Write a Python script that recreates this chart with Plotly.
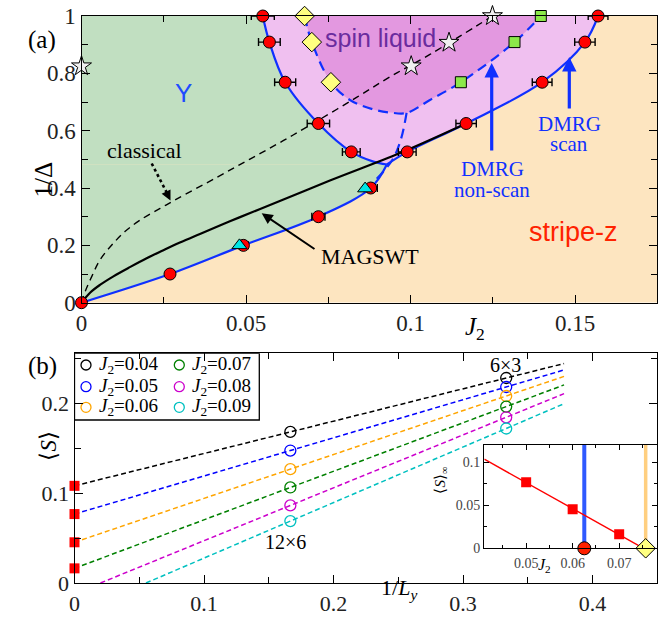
import numpy as np
import plotly.graph_objects as go

# ======================= DATA =======================
# ---- panel (a): phase diagram, x = J2, y = 1/Delta ----
# DMRG "scan" boundary points (red circles) with x error bars
scan_bottom_J2 = [0.0, 0.0269, 0.0492, 0.0720, 0.0879]
scan_bottom_invD = [0.0, 0.100, 0.200, 0.300, 0.400]
scan_bottom_err = [0.0, 0.0, 0.0015, 0.0020, 0.0020]
scan_left_J2 = [0.0551, 0.0571, 0.0619, 0.0720, 0.0820]
scan_left_invD = [1.000, 0.909, 0.769, 0.625, 0.526]
scan_left_err = [0.0035, 0.0033, 0.0032, 0.0034, 0.0027]
scan_right_J2 = [0.0990, 0.1169, 0.1400, 0.1530, 0.1570]
scan_right_invD = [0.526, 0.625, 0.769, 0.909, 1.000]
scan_right_err = [0.0027, 0.0031, 0.0030, 0.0031, 0.0030]
# point where the two scan boundaries meet
junction_J2 = [0.0887, 0.0928]
junction_invD = [0.492, 0.482]

# DMRG "non-scan" boundary
nonscan_left_J2 = [0.0678, 0.0700, 0.0758]          # yellow diamonds
nonscan_left_invD = [1.000, 0.909, 0.769]
nonscan_right_J2 = [0.1153, 0.1316, 0.1396]         # green squares
nonscan_right_invD = [0.769, 0.909, 1.000]
nonscan_mid_J2 = [0.0816, 0.0887, 0.0940, 0.0988, 0.1059]   # bottom of the dashed dome
nonscan_mid_invD = [0.707, 0.674, 0.663, 0.662, 0.707]
nonscan_stem_J2 = [0.0988, 0.0972, 0.0948, 0.0917, 0.0870]
nonscan_stem_invD = [0.662, 0.575, 0.504, 0.457, 0.400]
tri_J2 = [0.0480, 0.0862]                           # cyan triangles
tri_invD = [0.200, 0.398]
star_J2 = [0.0, 0.1002, 0.1117, 0.1249]             # stars
star_invD = [0.825, 0.825, 0.907, 1.000]

# classical boundary (dashed black)
classical_J2 = [0.0, 0.0011, 0.0031, 0.0056, 0.0092, 0.0132, 0.0178, 0.0239, 0.0284,
                0.0411, 0.0512, 0.0613, 0.0715, 0.0836, 0.0938, 0.1059, 0.1249]
classical_invD = [0.0, 0.038, 0.091, 0.149, 0.201, 0.248, 0.288, 0.329, 0.358,
                  0.437, 0.501, 0.565, 0.633, 0.716, 0.788, 0.866, 1.000]
# MAGSWT boundary (solid black)
magswt_J2 = [0.0, 0.0026, 0.0056, 0.0097, 0.0147, 0.0198, 0.0249, 0.0299, 0.0360,
             0.0451, 0.0543, 0.0755, 0.0968, 0.1169]
magswt_invD = [0.0, 0.035, 0.062, 0.092, 0.124, 0.155, 0.183, 0.210, 0.240,
               0.284, 0.327, 0.426, 0.522, 0.625]

a_xticks = [0, 0.05, 0.1, 0.15]
a_yticks = [0, 0.2, 0.4, 0.6, 0.8, 1.0]

# ---- panel (b): <S> vs 1/Ly ----
J2_vals = [0.04, 0.05, 0.06, 0.07, 0.08, 0.09]
invLy = [1 / 6, 1 / 3]                       # 12x6 and 6x3 clusters
S_12x6 = [0.1681, 0.1474, 0.1267, 0.1063, 0.0863, 0.0689]
S_6x3 = [0.2281, 0.2181, 0.2081, 0.1963, 0.1844, 0.1719]
b_xticks = [0, 0.1, 0.2, 0.3, 0.4]
b_yticks = [0, 0.1, 0.2]

# inset
J2c_scan = 0.0625
J2c_nonscan = 0.0757
i_xticks = [0.05, 0.06, 0.07]
i_yticks = [0, 0.05, 0.1]

# ======================= LAYOUT GEOMETRY =======================
W, H = 667, 618
A_PX = (81.5, 657.3, 302.7, 16.0)   # left, right, bottom, top (pixels)
B_PX = (74.5, 657.3, 583.0, 353.3)
I_PX = (484.3, 657.3, 548.3, 445.0)
A_RANGE = ([0, 0.175], [0, 1.0])
B_RANGE = ([0, 0.45], [0, 0.2556])
I_RANGE = ([0.041, 0.0782], [0, 0.12])


def dom(px):
    l, r, b, t = px
    return [l / W, r / W], [1 - b / H, 1 - t / H]


def to_data(px, rng, x, y):
    l, r, b, t = px
    (x0, x1), (y0, y1) = rng
    return x0 + (x - l) / (r - l) * (x1 - x0), y0 + (b - y) / (b - t) * (y1 - y0)


def pa(x, y):
    return to_data(A_PX, A_RANGE, x, y)


def pb(x, y):
    return to_data(B_PX, B_RANGE, x, y)


def paper(x, y):
    return x / W, 1 - y / H


SERIF = "Liberation Serif"
SANS = "Liberation Sans"
BLUE = "#1030ff"
GREEN_FILL = "#c1dfc1"
ORANGE_FILL = "#fde5c0"
PINK_FILL = "#f0c0f0"
DARK_PINK_FILL = "#e398e0"

fig = go.Figure()

# ---------------- panel (a) regions and boundaries ----------------
bottom_x = scan_bottom_J2 + [junction_J2[1]]
bottom_y = scan_bottom_invD + [junction_invD[1]]
left_x = scan_left_J2 + junction_J2
left_y = scan_left_invD + junction_invD
right_x = [junction_J2[1]] + scan_right_J2
right_y = [junction_invD[1]] + scan_right_invD

line_a = dict(color=BLUE, width=2.2, shape="spline", smoothing=1)

# Y phase below / left of boundaries
fig.add_trace(go.Scatter(x=bottom_x, y=bottom_y, mode="lines", line=line_a,
                         fill="tozerox", fillcolor=GREEN_FILL, xaxis="x", yaxis="y",
                         hoverinfo="skip", showlegend=False))
fig.add_trace(go.Scatter(x=left_x, y=left_y, mode="lines", line=line_a,
                         fill="tozerox", fillcolor=GREEN_FILL, xaxis="x", yaxis="y",
                         hoverinfo="skip", showlegend=False))
# intermediate (light pink) between the two scan boundaries
fig.add_trace(go.Scatter(x=right_x[::-1], y=right_y[::-1], mode="lines", line=line_a,
                         fill="tonextx", fillcolor=PINK_FILL, xaxis="x", yaxis="y",
                         hoverinfo="skip", showlegend=False))
# spin-liquid dome (dashed, dark pink)
dome_x = nonscan_left_J2 + nonscan_mid_J2 + nonscan_right_J2
dome_y = nonscan_left_invD + nonscan_mid_invD + nonscan_right_invD
fig.add_trace(go.Scatter(x=dome_x, y=dome_y, mode="lines",
                         line=dict(color=BLUE, width=2.2, dash="10px,6px", shape="spline"),
                         fill="toself", fillcolor=DARK_PINK_FILL, xaxis="x", yaxis="y",
                         hoverinfo="skip", showlegend=False))
fig.add_trace(go.Scatter(x=nonscan_stem_J2, y=nonscan_stem_invD, mode="lines",
                         line=dict(color=BLUE, width=2.2, dash="10px,6px", shape="spline"),
                         xaxis="x", yaxis="y", hoverinfo="skip", showlegend=False))
# classical and MAGSWT
fig.add_trace(go.Scatter(x=classical_J2, y=classical_invD, mode="lines",
                         line=dict(color="black", width=1.4, dash="7px,5px", shape="spline"),
                         xaxis="x", yaxis="y", hoverinfo="skip", showlegend=False))
fig.add_trace(go.Scatter(x=magswt_J2, y=magswt_invD, mode="lines",
                         line=dict(color="black", width=2.2, shape="spline"),
                         xaxis="x", yaxis="y", hoverinfo="skip", showlegend=False))
# dotted pointer for "classical"
c0 = pa(151.7, 163.5)
c1 = pa(167.5, 194.0)
fig.add_trace(go.Scatter(x=[c0[0], c1[0]], y=[c0[1], c1[1]], mode="lines",
                         line=dict(color="black", width=2.6, dash="dot"),
                         xaxis="x", yaxis="y", hoverinfo="skip", showlegend=False))

# markers
fig.add_trace(go.Scatter(x=scan_bottom_J2 + scan_left_J2 + scan_right_J2,
                         y=scan_bottom_invD + scan_left_invD + scan_right_invD,
                         mode="markers",
                         error_x=dict(type="data", array=scan_bottom_err + scan_left_err + scan_right_err,
                                      color="black", thickness=1.4, width=4),
                         marker=dict(symbol="circle", size=12, color="#ff0000",
                                     line=dict(color="black", width=1)),
                         cliponaxis=False, xaxis="x", yaxis="y", showlegend=False))
fig.add_trace(go.Scatter(x=nonscan_left_J2, y=nonscan_left_invD, mode="markers",
                         marker=dict(symbol="diamond", size=15, color="#ffff80",
                                     line=dict(color="black", width=1)),
                         cliponaxis=False, xaxis="x", yaxis="y", showlegend=False))
fig.add_trace(go.Scatter(x=nonscan_right_J2, y=nonscan_right_invD, mode="markers",
                         marker=dict(symbol="square", size=11, color="#8ce84a",
                                     line=dict(color="black", width=1)),
                         cliponaxis=False, xaxis="x", yaxis="y", showlegend=False))
fig.add_trace(go.Scatter(x=star_J2, y=star_invD, mode="markers",
                         marker=dict(symbol="star", size=15, color="#f0f0f0",
                                     line=dict(color="black", width=1)),
                         cliponaxis=False, xaxis="x", yaxis="y", showlegend=False))
fig.add_trace(go.Scatter(x=tri_J2, y=tri_invD, mode="markers",
                         marker=dict(symbol="triangle-up", size=13, color="#00e5e5",
                                     line=dict(color="black", width=1)),
                         cliponaxis=False, xaxis="x", yaxis="y", showlegend=False))

# ---------------- panel (b) ----------------
colors_b = ["black", "#0000ff", "#ffa500", "#008000", "#cc00cc", "#00c0c0"]
x_end = 0.378
S_inf = []
for j, col in enumerate(colors_b):
    slope, icpt = np.polyfit(invLy, [S_12x6[j], S_6x3[j]], 1)
    S_inf.append(icpt)
    xs = max(0.0, -icpt / slope)
    fig.add_trace(go.Scatter(x=[xs, x_end], y=[icpt + slope * xs, icpt + slope * x_end],
                             mode="lines", line=dict(color=col, width=1.5, dash="5px,3px"),
                             xaxis="x2", yaxis="y2", hoverinfo="skip", showlegend=False))
    fig.add_trace(go.Scatter(x=invLy, y=[S_12x6[j], S_6x3[j]], mode="markers",
                             marker=dict(symbol="circle-open", size=11, color=col,
                                         line=dict(width=1.3)),
                             xaxis="x2", yaxis="y2", name=f"J2={J2_vals[j]}", showlegend=False))
S_inf = np.array(S_inf)
pos = S_inf > 0
fig.add_trace(go.Scatter(x=[0.0] * int(pos.sum()), y=S_inf[pos], mode="markers",
                         marker=dict(symbol="square", size=10, color="#ff0000"),
                         cliponaxis=False, xaxis="x2", yaxis="y2", showlegend=False))

# manual legend (two columns)
leg_box0 = pb(74.5, 420.0)
leg_box1 = pb(259.3, 353.3)
rows_py = [365.0, 386.7, 407.3]
cols_px = [(86.0, 96.7), (179.3, 190.0)]
leg_mx, leg_my, leg_annots = [], [], []
for j, J in enumerate(J2_vals):
    c, r = divmod(j, 3)
    mx, my = pb(cols_px[c][0], rows_py[r])
    tx, ty = pb(cols_px[c][1], rows_py[r])
    leg_mx.append(mx)
    leg_my.append(my)
    leg_annots.append(dict(x=tx, y=ty, xref="x2", yref="y2", xanchor="left", yanchor="middle",
                           text=f"<i>J</i><sub>2</sub>={J:.2f}", showarrow=False,
                           font=dict(family=SERIF, size=19, color="black")))
fig.add_trace(go.Scatter(x=leg_mx, y=leg_my, mode="markers",
                         marker=dict(symbol="circle-open", size=10, color=colors_b,
                                     line=dict(width=1.3)),
                         cliponaxis=False, xaxis="x2", yaxis="y2", hoverinfo="skip",
                         showlegend=False))

# ---------------- inset ----------------
Ji = np.array(J2_vals)
mask = pos & (Ji > I_RANGE[0][0]) & (Ji < I_RANGE[0][1])
sl, ic = np.polyfit(Ji[mask], S_inf[mask], 1)
x_zero = -ic / sl
fig.add_trace(go.Scatter(x=[J2c_scan, J2c_scan], y=I_RANGE[1], mode="lines",
                         line=dict(color="rgba(10,60,255,0.85)", width=4),
                         xaxis="x3", yaxis="y3", hoverinfo="skip", showlegend=False))
fig.add_trace(go.Scatter(x=[J2c_nonscan, J2c_nonscan], y=I_RANGE[1], mode="lines",
                         line=dict(color="#ffcf80", width=3.5),
                         xaxis="x3", yaxis="y3", hoverinfo="skip", showlegend=False))
fig.add_trace(go.Scatter(x=[I_RANGE[0][0], x_zero], y=[ic + sl * I_RANGE[0][0], 0.0],
                         mode="lines", line=dict(color="#ff0000", width=1.4),
                         xaxis="x3", yaxis="y3", hoverinfo="skip", showlegend=False))
fig.add_trace(go.Scatter(x=Ji[mask], y=S_inf[mask], mode="markers",
                         marker=dict(symbol="square", size=10, color="#ff0000"),
                         xaxis="x3", yaxis="y3", showlegend=False))
fig.add_trace(go.Scatter(x=[J2c_scan], y=[0.0], mode="markers",
                         marker=dict(symbol="circle", size=13, color="#ff2000",
                                     line=dict(color="black", width=1)),
                         cliponaxis=False, xaxis="x3", yaxis="y3", showlegend=False))
fig.add_trace(go.Scatter(x=[J2c_nonscan], y=[0.0], mode="markers",
                         marker=dict(symbol="diamond", size=15, color="#ffff80",
                                     line=dict(color="black", width=1)),
                         cliponaxis=False, xaxis="x3", yaxis="y3", showlegend=False))

# ---------------- axes ----------------
def axis(domain, rng, ticks, minor, size, anchor, ticklen=8, color="#222", standoff=0):
    return dict(domain=domain, range=rng, anchor=anchor, tickvals=ticks, automargin=False,
                ticks="inside", ticklen=ticklen, tickwidth=1.2, tickcolor="black",
                showline=True, linecolor="black", linewidth=1.3, mirror="ticks",
                showgrid=False, zeroline=False, ticklabelstandoff=standoff,
                minor=dict(dtick=minor, ticks="inside", ticklen=ticklen - 2,
                           tickcolor="black", tickwidth=1.1),
                tickfont=dict(family=SERIF, size=size, color=color))

ax_dom, ay_dom = dom(A_PX)
bx_dom, by_dom = dom(B_PX)
ix_dom, iy_dom = dom(I_PX)

layout = dict(
    width=W, height=H, margin=dict(l=0, r=0, t=0, b=0, pad=0, autoexpand=False),
    paper_bgcolor="white", plot_bgcolor="white", showlegend=False,
    xaxis=axis(ax_dom, A_RANGE[0], a_xticks, 0.025, 23, "y"),
    yaxis=axis(ay_dom, A_RANGE[1], a_yticks, 0.1, 23, "x"),
    xaxis2=axis(bx_dom, B_RANGE[0], b_xticks, 0.05, 22, "y2"),
    yaxis2=axis(by_dom, B_RANGE[1], b_yticks, 0.05, 22, "x2"),
    xaxis3=axis(ix_dom, I_RANGE[0], i_xticks, 0.005, 14, "y3", ticklen=5, color="#444",
                standoff=2),
    yaxis3=axis(iy_dom, I_RANGE[1], i_yticks, 0.025, 14, "x3", ticklen=5, color="#444"),
)
fig.update_layout(**layout)

# shapes: orange background of panel (a), legend box
fig.add_shape(type="rect", xref="x", yref="y", x0=A_RANGE[0][0], x1=A_RANGE[0][1],
              y0=A_RANGE[1][0], y1=A_RANGE[1][1], fillcolor=ORANGE_FILL,
              line=dict(width=0), layer="below")
fig.add_shape(type="rect", xref="x2", yref="y2", x0=leg_box0[0], x1=leg_box1[0],
              y0=leg_box0[1], y1=leg_box1[1], fillcolor="white",
              line=dict(color="black", width=1.3), layer="below")

# ---------------- annotations ----------------
ann = []


def txt_a(px, py, text, size, color="black", family=SERIF):
    x, y = pa(px, py)
    ann.append(dict(x=x, y=y, xref="x", yref="y", text=text, showarrow=False,
                    borderpad=0, font=dict(family=family, size=size, color=color)))


def txt_p(px, py, text, size, angle=0, color="black"):
    x, y = paper(px, py)
    ann.append(dict(x=x, y=y, xref="paper", yref="paper", text=text, showarrow=False,
                    textangle=angle, font=dict(family=SERIF, size=size, color=color)))


def arrow_a(hx, hy, tx, ty, color, width, size=1.0):
    h = pa(hx, hy)
    t = pa(tx, ty)
    ann.append(dict(x=h[0], y=h[1], ax=t[0], ay=t[1], xref="x", yref="y",
                    axref="x", ayref="y", text="", showarrow=True, arrowhead=2,
                    arrowsize=size, arrowwidth=width, arrowcolor=color))


txt_a(183.3, 93.3, "Y", 26, "#1f4cff", SANS)
txt_a(380.0, 38.0, "spin liquid", 25, "#6a2c9e", SANS)
txt_a(573.5, 231.7, "stripe-z", 27, "#ff2200", SANS)
txt_a(144.3, 150.0, "classical", 22)
txt_a(370.0, 256.0, "MAGSWT", 22)
txt_a(492.0, 169.0, "DMRG", 21, BLUE)
txt_a(492.0, 190.0, "non-scan", 21, BLUE)
txt_a(569.3, 123.5, "DMRG", 21, BLUE)
txt_a(569.3, 144.0, "scan", 21, BLUE)
arrow_a(261.7, 213.3, 316.0, 250.0, "black", 2.0, 1.1)
arrow_a(491.7, 63.0, 491.7, 152.0, BLUE, 3.2, 0.9)
arrow_a(569.3, 57.0, 569.3, 110.0, BLUE, 3.2, 0.9)
hx, hy = pa(170.5, 200.5)
ann.append(dict(x=hx, y=hy, xref="x", yref="y", ax=-4, ay=-8, text="", showarrow=True,
                arrowhead=2, arrowsize=1.1, arrowwidth=1.8, arrowcolor="black"))

txt_p(26, 24, "(a)", 25)
txt_p(26, 366, "(b)", 25)
txt_p(27, 160, "1/Δ", 25, angle=-90)
txt_p(487, 328, "<i>J</i><sub>2</sub>", 25)
txt_p(33, 463, "⟨<i>S</i>⟩", 23, angle=-90)
txt_p(399, 605, "1/<i>L</i><sub><i>y</i></sub>", 22)
txt_p(440, 496, "⟨<i>S</i>⟩<sub>∞</sub>", 15, angle=-90)
txt_p(553, 577, "<i>J</i><sub>2</sub>", 16)

for px_, py_, t in [(505.0, 365.0, "6×3"), (285.0, 541.7, "12×6")]:
    x, y = pb(px_, py_)
    ann.append(dict(x=x, y=y, xref="x2", yref="y2", text=t, showarrow=False,
                    font=dict(family=SERIF, size=20, color="black")))

ann.extend(leg_annots)
fig.update_layout(annotations=ann)

fig.write_html("out.html", config={"displayModeBar": False},
               post_script="document.body.style.margin='0';document.body.style.padding='0';")
